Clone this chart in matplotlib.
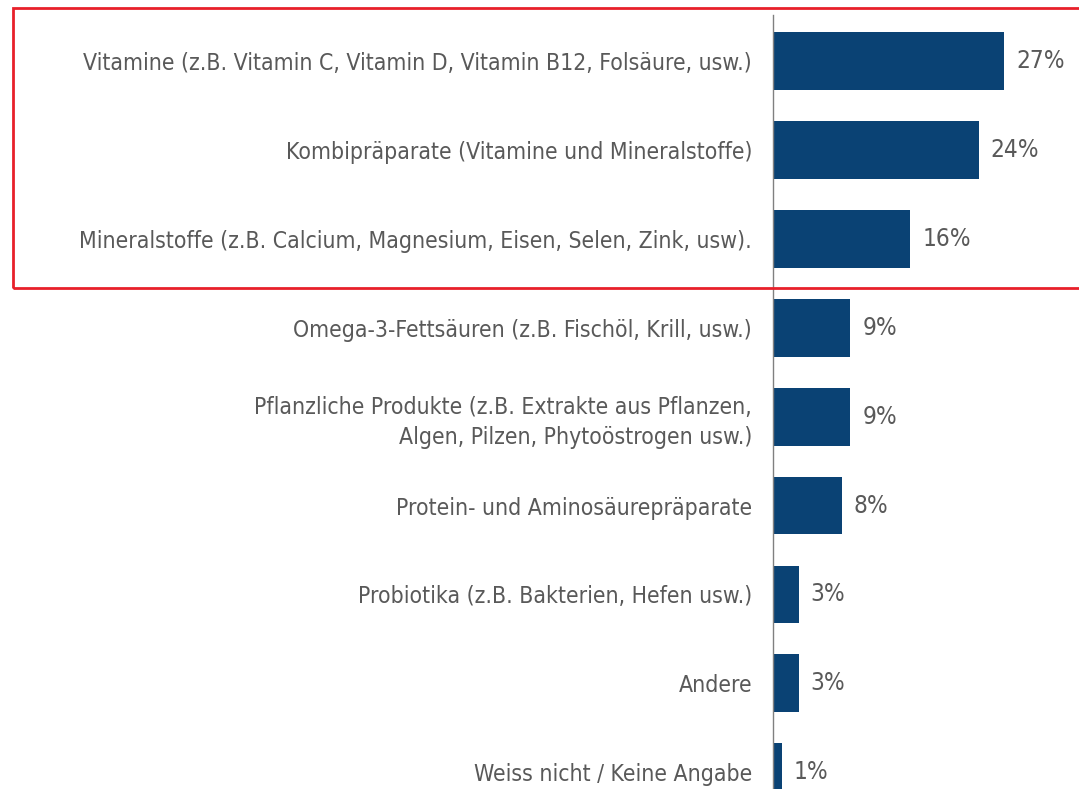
import matplotlib.pyplot as plt
from matplotlib.patches import Rectangle

categories = [
    "Vitamine (z.B. Vitamin C, Vitamin D, Vitamin B12, Folsäure, usw.)",
    "Kombipräparate (Vitamine und Mineralstoffe)",
    "Mineralstoffe (z.B. Calcium, Magnesium, Eisen, Selen, Zink, usw).",
    "Omega-3-Fettsäuren (z.B. Fischöl, Krill, usw.)",
    "Pflanzliche Produkte (z.B. Extrakte aus Pflanzen,\nAlgen, Pilzen, Phytoöstrogen usw.)",
    "Protein- und Aminosäurepräparate",
    "Probiotika (z.B. Bakterien, Hefen usw.)",
    "Andere",
    "Weiss nicht / Keine Angabe",
]
values = [27, 24, 16, 9, 9, 8, 3, 3, 1]

plt.rcParams['font.family'] = ['DejaVu Sans']
plt.rcParams['font.stretch'] = 'condensed'

W, H = 1079, 789
fig = plt.figure(figsize=(W / 100, H / 100), dpi=100)
ax = fig.add_axes([773 / W, 0, (W - 773) / W, (H - 15) / H])

pos = list(range(len(categories)))
ax.barh(pos, values, height=0.65, color='#0a4274')
ax.set_ylim(8.19, -0.52)
ax.set_xlim(0, 306 / 8.57)

for y, v in zip(pos, values):
    ax.text(v + 1.4, y, f"{v}%", va='center', ha='left', fontsize=17.5, color='#595959')

ax.set_yticks(pos)
ax.set_yticklabels(categories, fontsize=16.5, color='#595959', ha='right',
                   multialignment='right', linespacing=1.4)
ax.tick_params(axis='y', length=0, pad=15)
ax.set_xticks([])
for s in ['top', 'right', 'bottom']:
    ax.spines[s].set_visible(False)
ax.spines['left'].set_color('#808080')
ax.spines['left'].set_linewidth(1)

# red highlight frame around the top three rows
fig.patches.append(Rectangle((13 / W, 1 - 288 / H), 1.1, (288 - 8) / H,
                             transform=fig.transFigure, fill=False,
                             edgecolor='#e8202a', linewidth=2))

fig.savefig("out.png", dpi=100)
